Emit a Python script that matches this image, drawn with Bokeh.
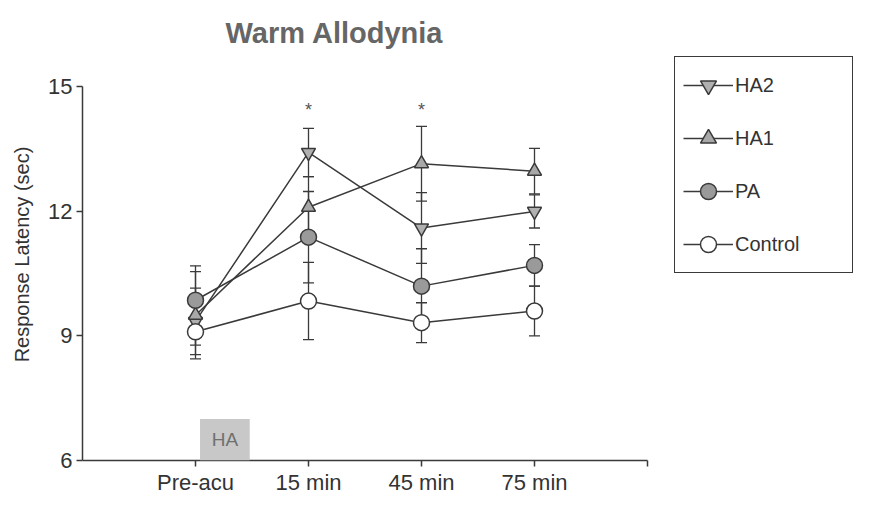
from bokeh.plotting import figure
from bokeh.models import (ColumnDataSource, Whisker, TeeHead, Legend, LegendItem,
                          FixedTicker, BoxAnnotation, Label, Range1d)
from bokeh.core.properties import value
from bokeh.embed import file_html
from bokeh.resources import INLINE

# ---- data ----
timepoints = ["Pre-acu", "15 min", "45 min", "75 min"]
ha2 = [9.35, 13.42, 11.60, 12.00]
ha2_err = [0.80, 0.58, 0.85, 0.40]
ha1 = [9.50, 12.10, 13.15, 12.97]
ha1_err = [1.05, 0.74, 0.90, 0.55]
pa = [9.86, 11.38, 10.20, 10.70]
pa_err = [0.83, 1.10, 0.90, 0.50]
control = [9.10, 9.84, 9.32, 9.60]
control_err = [0.32, 0.93, 0.48, 0.60]
sig_points = ["15 min", "45 min"]
sig_level = 14.45
y_ticks = [6, 9, 12, 15]

FONT = "Liberation Sans"
INK = "#3a3a3a"

xpos = [i + 1 for i in range(len(timepoints))]

# frame extends right/up so the legend can sit inside it; axes are bounded
p = figure(width=853, height=497, output_backend="svg", toolbar_location=None,
           x_range=Range1d(0, 6.823), y_range=Range1d(6, 15.924),
           min_border_left=82, min_border_right=0, min_border_top=48,
           min_border_bottom=30)
p.outline_line_color = None
p.xgrid.visible = False
p.ygrid.visible = False
p.background_fill_color = "white"
p.border_fill_color = "white"

p.title.text = "Warm Allodynia"
p.title.text_font = FONT
p.title.text_font_style = "bold"
p.title.text_font_size = "29px"
p.title.text_color = "#666666"
p.title.align = "left"
p.title.offset = 143
p.title.standoff = 0

# axes
for ax in (p.xaxis[0], p.yaxis[0]):
    ax.axis_line_color = INK
    ax.axis_line_width = 1.5
    ax.major_tick_line_color = INK
    ax.major_tick_line_width = 1.5
    ax.major_tick_out = 6
    ax.major_tick_in = 0
    ax.minor_tick_line_color = None
    ax.major_label_text_font = FONT
    ax.major_label_text_font_size = "22px"
    ax.major_label_text_color = "#333333"

p.xaxis.bounds = (0, 5)
p.yaxis.bounds = (6, 15)
p.xaxis.ticker = FixedTicker(ticks=xpos + [5])
overrides = {x: t for x, t in zip(xpos, timepoints)}
overrides[5] = ""
p.xaxis.major_label_overrides = overrides
p.xaxis.major_label_standoff = 3

p.yaxis.ticker = FixedTicker(ticks=y_ticks)
p.yaxis.axis_label = "Response Latency (sec)"
p.yaxis.axis_label_text_font = FONT
p.yaxis.axis_label_text_font_style = "normal"
p.yaxis.axis_label_text_font_size = "20px"
p.yaxis.axis_label_text_color = "#333333"
p.yaxis.axis_label_standoff = 12
p.yaxis.major_label_standoff = 4

# HA marker box
p.add_layout(BoxAnnotation(left=1.04, right=1.48, bottom=6, top=7.0,
                           fill_color="#c8c8c8", fill_alpha=1.0, line_color=None))
p.add_layout(Label(x=1.26, y=6.5, text="HA", text_align="center", text_baseline="middle",
                   text_font=FONT, text_font_size="19px", text_color="#707070"))

series = [
    ("HA2", ha2, ha2_err, "inverted_triangle", "#b0b0b0"),
    ("HA1", ha1, ha1_err, "triangle", "#a8a8a8"),
    ("PA", pa, pa_err, "circle", "#9a9a9a"),
    ("Control", control, control_err, "circle", "white"),
]

items = []
for name, vals, errs, marker, fill in series:
    src = ColumnDataSource(dict(x=xpos, y=vals,
                                upper=[v + e for v, e in zip(vals, errs)],
                                lower=[v - e for v, e in zip(vals, errs)]))
    w = Whisker(base="x", upper="upper", lower="lower", source=src, dimension="height",
                line_color=INK, line_width=1.3,
                upper_head=TeeHead(size=11, line_color=INK, line_width=1.3),
                lower_head=TeeHead(size=11, line_color=INK, line_width=1.3))
    p.add_layout(w)
    ln = p.line("x", "y", source=src, line_color=INK, line_width=1.5)
    sz = 16 if marker == "circle" else 14
    sc = p.scatter("x", "y", source=src, marker=marker, size=sz, fill_color=fill,
                   line_color=INK, line_width=1.5)
    items.append(LegendItem(label=name, renderers=[ln, sc]))

# significance asterisks
sig_x = [xpos[timepoints.index(s)] for s in sig_points]
p.text(x=sig_x, y=[sig_level] * len(sig_x), text=["*"] * len(sig_x),
       text_align="center", text_baseline="middle", text_font=value(FONT),
       text_font_size="18px", text_color="#555555")

legend = Legend(items=items, location=(592, 187))
legend.border_line_color = INK
legend.border_line_alpha = 1.0
legend.border_line_width = 1.5
legend.background_fill_color = "white"
legend.background_fill_alpha = 1.0
legend.label_text_font = FONT
legend.label_text_font_size = "20px"
legend.label_text_color = "#333333"
legend.glyph_width = 50
legend.glyph_height = 40
legend.label_height = 40
legend.label_width = 109
legend.label_standoff = 2
legend.spacing = 13
legend.padding = 8
legend.margin = 0
p.add_layout(legend, "center")

open("out.html", "w").write(file_html(p, INLINE))
